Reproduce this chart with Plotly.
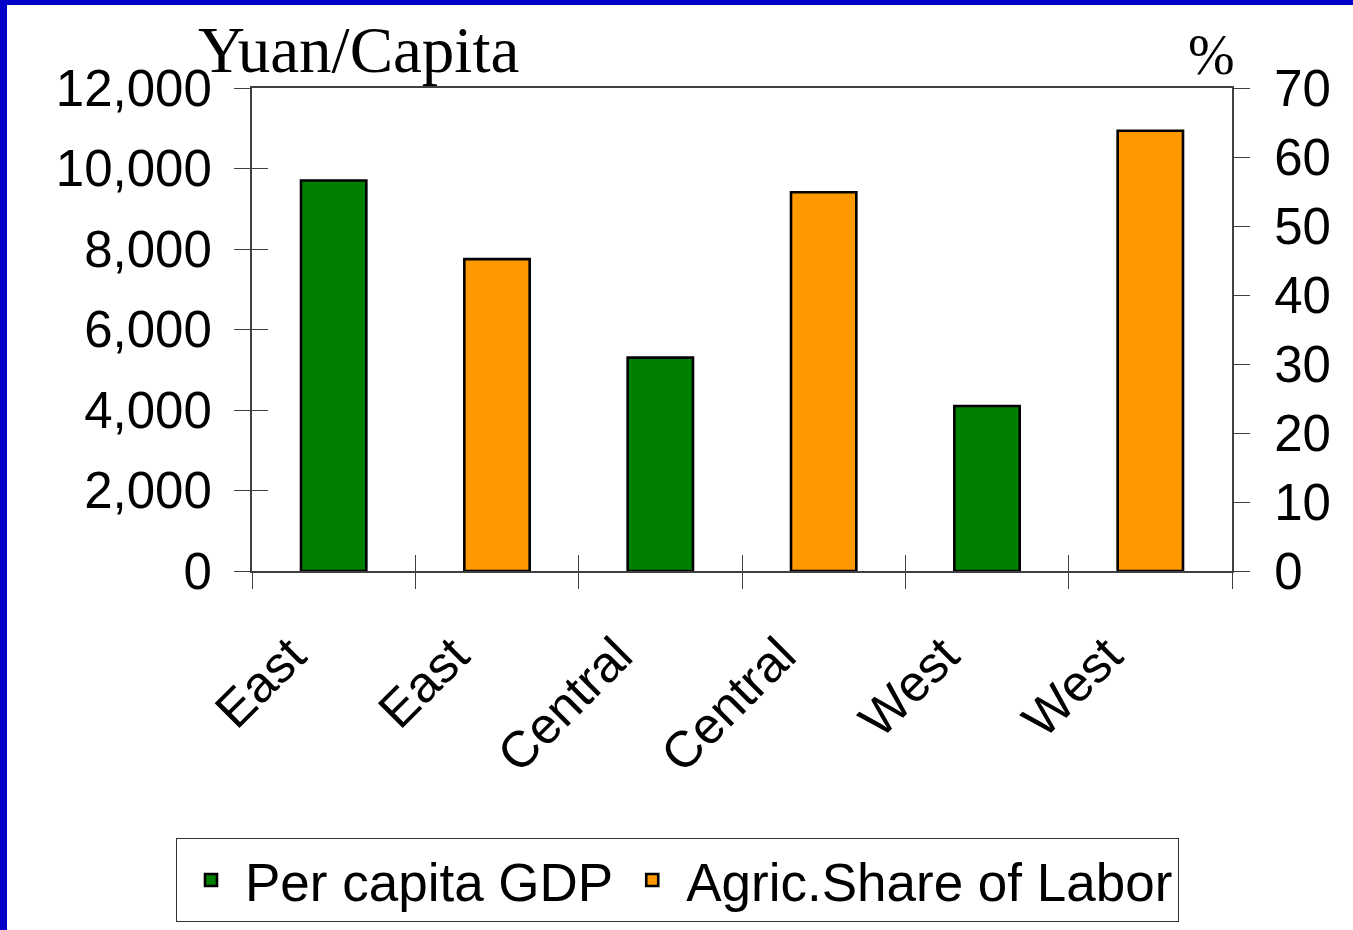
import plotly.graph_objects as go

categories = ["East", "East", "Central", "Central", "West", "West"]
gdp_per_capita = [9700, None, 5300, None, 4100, None]
agri_share_labor = [None, 45.2, None, 54.9, None, 63.8]
left_ticks = [0, 2000, 4000, 6000, 8000, 10000, 12000]
right_ticks = [0, 10, 20, 30, 40, 50, 60, 70]

xpos = list(range(len(categories)))
bounds = [i - 0.5 for i in range(len(categories) + 1)]
xr = [-0.5, len(categories) - 0.5]

W, H = 1353, 930
ML, MR, MT, MB = 252, 121, 88, 359
PW, PH = W - ML - MR, H - MT - MB

def px_x(p):
    return (p - ML) / PW

def px_y(p):
    return (H - MB - p) / PH

fig = go.Figure()
fig.add_trace(go.Bar(
    x=xpos, y=gdp_per_capita, name="Per capita GDP", width=0.4,
    marker=dict(color="#008000", line=dict(color="black", width=2.6)),
    yaxis="y"))
fig.add_trace(go.Bar(
    x=xpos, y=agri_share_labor, name="Agric.Share of Labor", width=0.4,
    marker=dict(color="#FF9900", line=dict(color="black", width=2.6)),
    yaxis="y2"))
# empty trace so the overlay axes carrying the inner half of the tick marks are drawn
fig.add_trace(go.Scatter(x=[], y=[], xaxis="x2", yaxis="y3",
                         showlegend=False, hoverinfo="skip"))

tick_font = dict(family="Liberation Sans, Arial", size=51, color="black")
axis_col = "#404040"

fig.update_layout(
    width=W, height=H,
    margin=dict(l=ML, r=MR, t=MT, b=MB, pad=0, autoexpand=False),
    paper_bgcolor="#0000C8",
    plot_bgcolor="white",
    barmode="overlay",
    xaxis=dict(
        range=xr, tickmode="array", tickvals=xpos, ticktext=categories,
        tickangle=-45, ticks="", tickfont=tick_font, ticklabelstandoff=32,
        ticklabelshift=-43, automargin=False,
        showline=True, linecolor=axis_col, linewidth=2, mirror=True,
        showgrid=False, zeroline=False,
        minor=dict(tickmode="array", tickvals=bounds, ticks="outside",
                   ticklen=16, tickcolor=axis_col, tickwidth=1),
    ),
    xaxis2=dict(
        range=xr, overlaying="x", anchor="y", side="bottom",
        tickmode="array", tickvals=bounds, ticks="inside", ticklen=16,
        tickcolor=axis_col, showticklabels=False, showline=False,
        showgrid=False, zeroline=False, automargin=False,
    ),
    yaxis=dict(
        range=[0, 12000], tickmode="array", tickvals=left_ticks,
        tickformat=",d", ticks="outside", ticklen=16, tickcolor=axis_col,
        tickfont=tick_font, showline=True, linecolor=axis_col, linewidth=2,
        showgrid=False, zeroline=False, ticklabelstandoff=12, automargin=False,
    ),
    yaxis3=dict(
        range=[0, 12000], overlaying="y", side="left", anchor="x",
        tickmode="array", tickvals=left_ticks, ticks="inside", ticklen=16,
        tickcolor=axis_col, showticklabels=False, showline=False,
        showgrid=False, zeroline=False, automargin=False,
    ),
    yaxis2=dict(
        range=[0, 70], overlaying="y", side="right", anchor="x",
        tickmode="array", tickvals=right_ticks, ticks="outside", ticklen=16,
        tickcolor=axis_col, tickfont=tick_font, showline=True,
        linecolor=axis_col, linewidth=2, showgrid=False, zeroline=False,
        ticklabelstandoff=14, automargin=False,
    ),
    legend=dict(
        orientation="h", x=px_x(176), xanchor="left", y=px_y(838),
        yanchor="top", bgcolor="white", bordercolor="#333", borderwidth=1,
        font=dict(family="Liberation Sans, Arial", size=53, color="black"),
        itemwidth=58,
    ),
    shapes=[dict(
        type="rect", xref="paper", yref="paper", layer="below",
        x0=px_x(7), x1=px_x(W + 20), y0=px_y(H + 20), y1=px_y(5),
        fillcolor="white", line=dict(width=0),
    )],
    annotations=[
        dict(text="Yuan/Capita", xref="paper", yref="paper",
             x=px_x(196), y=1.0, xanchor="left", yanchor="bottom",
             showarrow=False,
             font=dict(family="Liberation Serif, Times New Roman", size=65,
                       color="black")),
        dict(text="%", xref="paper", yref="paper",
             x=px_x(1186), y=1.0, xanchor="left", yanchor="bottom",
             showarrow=False,
             font=dict(family="Liberation Serif, Times New Roman", size=56,
                       color="black")),
    ],
)

fig.write_html("out.html",
               config={"displayModeBar": False},
               post_script="document.body.style.margin='0';"
                           "document.body.style.overflow='hidden';")
